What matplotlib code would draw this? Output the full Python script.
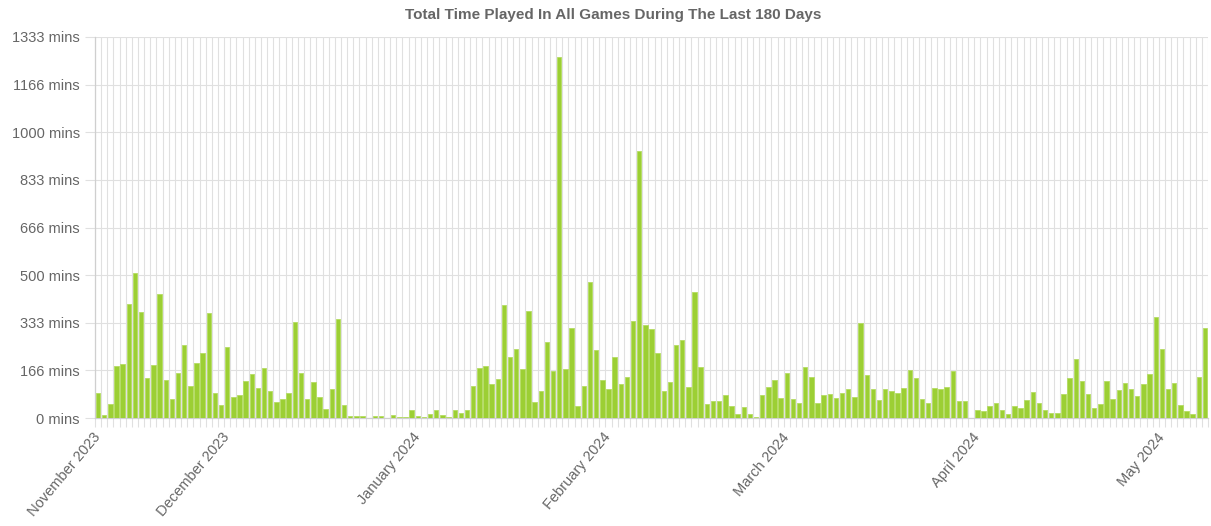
import numpy as np
import pandas as pd
import matplotlib
matplotlib.use("Agg")
import matplotlib.pyplot as plt
from matplotlib.ticker import FixedLocator, FixedFormatter

# ---- data -------------------------------------------------------------
start_date = "2023-11-10"
minutes = [
    86, 10, 50, 182, 188, 398, 506, 370, 141, 185, 433, 132, 67, 156, 255, 112, 192, 228, 366, 89,
    44, 249, 72, 82, 130, 153, 106, 176, 96, 57, 67, 89, 336, 159, 68, 126, 72, 32, 103, 347,
    44, 8, 8, 8, 0, 8, 8, 0, 12, 5, 5, 29, 8, 5, 15, 29, 12, 5, 27, 16,
    29, 112, 174, 183, 118, 137, 394, 215, 241, 171, 374, 56, 95, 265, 164, 1265, 170, 316, 41, 112,
    475, 237, 134, 102, 215, 118, 142, 341, 933, 325, 312, 228, 94, 126, 257, 272, 110, 442, 178, 50,
    59, 59, 82, 41, 15, 38, 13, 3, 81, 109, 133, 69, 156, 65, 53, 178, 145, 52, 79, 84,
    69, 89, 103, 72, 332, 152, 103, 64, 100, 94, 87, 106, 169, 140, 65, 52, 105, 102, 110, 164,
    61, 60, 0, 28, 24, 41, 54, 28, 14, 43, 36, 64, 91, 53, 28, 16, 17, 83, 139, 208,
    128, 84, 36, 50, 130, 66, 97, 122, 101, 78, 118, 153, 353, 242, 101, 123, 45, 23, 14, 142, 314,
]
y_max = 4000 / 3
y_steps = 8
title = "Total Time Played In All Games During The Last 180 Days"

# ---- derived ------------------------------------------------------------
dates = pd.date_range(start_date, periods=len(minutes), freq="D")
x = np.arange(len(minutes))

month_idx = [0] + [i for i, d in enumerate(dates) if d.day == 1 and i > 0]
month_lbl = [dates[i].strftime("%B %Y") for i in month_idx]

yticks = [y_max * k / y_steps for k in range(y_steps + 1)]
ylabels = [f"{int(np.floor(v + 1e-6))} mins" for v in yticks]

# ---- figure -------------------------------------------------------------
plt.rcParams["font.family"] = ["Liberation Sans", "DejaVu Sans"]
W, H = 1211, 526
fig = plt.figure(figsize=(W / 100, H / 100), dpi=100)
ax = fig.add_axes([95 / W, 1 - 418 / H, (1208 - 95) / W, (418 - 37) / H])

grid_c = "#e0e0e0"
text_c = "#666666"

ax.bar(x, minutes, width=0.72, color="#9ccf34", edgecolor="#b4dc62", linewidth=0.6, zorder=3)

ax.set_xlim(-0.5, len(minutes) - 0.5)
ax.set_ylim(0, y_max)

# x axis: month labels at month starts, grid lines between every day
ax.xaxis.set_major_locator(FixedLocator(month_idx))
ax.xaxis.set_major_formatter(FixedFormatter(month_lbl))
ax.xaxis.set_minor_locator(FixedLocator(np.arange(-0.5, len(minutes) + 0.5, 1.0)))
ax.tick_params(axis="x", which="major", length=0, pad=12, labelsize=10.5, labelcolor=text_c)
ax.tick_params(axis="x", which="minor", length=6.5, width=0.8, color=grid_c)
for lbl in ax.get_xticklabels():
    lbl.set_rotation(50)
    lbl.set_ha("right")
    lbl.set_va("center")
    lbl.set_rotation_mode("anchor")

ax.set_yticks(yticks)
ax.set_yticklabels(ylabels)
ax.tick_params(axis="y", length=7, width=0.8, color=grid_c, pad=4, labelsize=10.5, labelcolor=text_c)

ax.grid(True, axis="x", which="minor", color=grid_c, linewidth=0.8, zorder=0)
ax.grid(True, axis="y", which="major", color=grid_c, linewidth=0.8, zorder=0)
ax.set_axisbelow(True)

for side in ["top", "right"]:
    ax.spines[side].set_visible(False)
ax.spines["left"].set_color("#cfcfcf")
ax.spines["bottom"].set_color("#cfcfcf")
ax.spines["left"].set_linewidth(0.9)
ax.spines["bottom"].set_linewidth(0.9)

fig.text(613 / W, 1 - 15 / H, title, ha="center", va="center",
         fontsize=11, fontweight="bold", color=text_c)

fig.savefig("out.png", dpi=100, facecolor="white")
